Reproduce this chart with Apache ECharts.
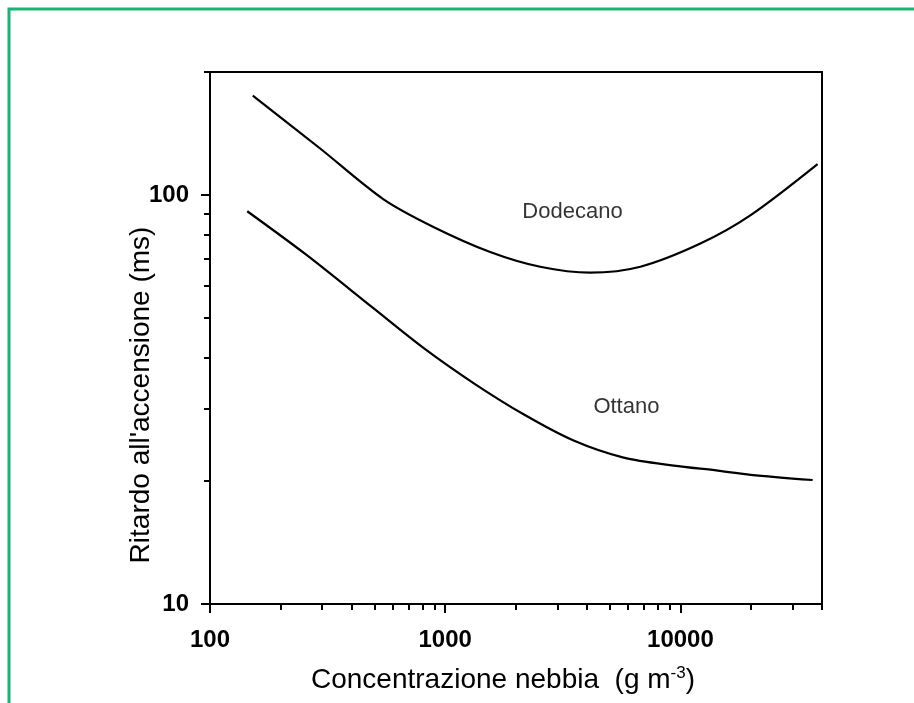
<!DOCTYPE html>
<html>
<head>
<meta charset="utf-8">
<script src="https://cdn.jsdelivr.net/npm/echarts@6/dist/echarts.min.js"></script>
<style>
  html, body { margin: 0; padding: 0; background: #fff; }
  #chart { width: 914px; height: 703px; }
</style>
</head>
<body>
<div id="chart"></div>
<script>
// values (log-log)
const dodecanoX = [152, 294, 545, 891, 1553, 2535, 4140, 6760, 12160, 19900, 38300];
const dodecanoY = [175, 130, 97.8, 83.6, 72.6, 66.8, 64.6, 66.8, 76.1, 89.3, 119];
const ottanoX = [144, 258, 495, 808, 1319, 2154, 3516, 5737, 9365, 14400, 19900, 36500];
const ottanoY = [91.3, 71.3, 52.9, 42.3, 34.7, 29.1, 25.1, 22.8, 21.8, 21.2, 20.7, 20.1];

// curve names written inside the plot
const curveNames = ["Dodecano", "Ottano"];
const nameX = [2128, 4266];
const nameY = [91, 30.3];

// ticks
const xLabels = [100, 1000, 10000];
const xMinor = [200, 300, 400, 500, 600, 700, 800, 900,
  2000, 3000, 4000, 5000, 6000, 7000, 8000, 9000, 20000, 30000, 40000];
const yLabels = [10, 100];
const yMinor = [20, 30, 40, 50, 60, 70, 80, 90, 200];

const FONT = "'Liberation Sans', Arial, sans-serif";

const zip = (xs, ys) => xs.map((x, i) => [x, ys[i]]);

let myChart = echarts.init(document.getElementById("chart"), null, {
  renderer: "canvas"
});

let option = {
  backgroundColor: "#fff",
  animation: false,
  textStyle: { fontFamily: FONT, color: "#000" },
  grid: {
    left: 210,
    right: 92,
    top: 72,
    bottom: 99,
    show: true,
    borderColor: "#000",
    borderWidth: 2
  },
  graphic: [
    {
      type: "polyline",
      shape: { points: [[9, 703], [9, 9], [914, 9]] },
      style: { stroke: "#19b373", lineWidth: 3, fill: null },
      silent: true
    }
  ],
  xAxis: [
    {
      type: "log",
      logBase: 10,
      min: 100,
      max: 40000,
      name: "Concentrazione nebbia  (g m{sup|-3})",
      nameLocation: "middle",
      nameGap: 61,
      nameMoveOverlap: false,
      nameTextStyle: {
        fontSize: 28,
        fontFamily: FONT,
        color: "#000",
        padding: [0, 26, 0, 0],
        rich: {
          sup: { fontSize: 17, fontFamily: FONT, color: "#000", verticalAlign: "top", padding: [0, 0, 14, 0] }
        }
      },
      axisLine: { show: true, lineStyle: { color: "#000", width: 2 } },
      axisTick: { show: true, customValues: xLabels, length: 9, lineStyle: { color: "#000", width: 2 } },
      axisLabel: {
        customValues: xLabels,
        formatter: (v) => String(v),
        margin: 24,
        fontSize: 24,
        fontWeight: "bold",
        fontFamily: FONT,
        color: "#000"
      },
      splitLine: { show: false }
    },
    {
      type: "log",
      logBase: 10,
      min: 100,
      max: 40000,
      position: "bottom",
      axisLine: { show: false },
      axisTick: { show: true, customValues: xMinor, length: 6, lineStyle: { color: "#000", width: 2 } },
      axisLabel: { show: false },
      splitLine: { show: false }
    }
  ],
  yAxis: [
    {
      type: "log",
      logBase: 10,
      min: 10,
      max: 200,
      name: "Ritardo all'accensione (ms)",
      nameLocation: "middle",
      nameGap: 55,
      nameMoveOverlap: false,
      nameTextStyle: {
        fontSize: 28,
        fontFamily: FONT,
        color: "#000",
        padding: [0, 114, 0, 0]
      },
      axisLine: { show: true, lineStyle: { color: "#000", width: 2 } },
      axisTick: { show: true, customValues: yLabels, length: 9, lineStyle: { color: "#000", width: 2 } },
      axisLabel: {
        customValues: yLabels,
        formatter: (v) => String(v),
        margin: 21,
        fontSize: 24,
        fontWeight: "bold",
        fontFamily: FONT,
        color: "#000"
      },
      splitLine: { show: false }
    },
    {
      type: "log",
      logBase: 10,
      min: 10,
      max: 200,
      position: "left",
      axisLine: { show: false },
      axisTick: { show: true, customValues: yMinor, length: 6, lineStyle: { color: "#000", width: 2 } },
      axisLabel: { show: false },
      splitLine: { show: false }
    }
  ],
  series: [
    {
      name: "Dodecano",
      type: "line",
      data: zip(dodecanoX, dodecanoY),
      smooth: 0.3,
      showSymbol: false,
      lineStyle: { color: "#000", width: 2.2 }
    },
    {
      name: "Ottano",
      type: "line",
      data: zip(ottanoX, ottanoY),
      smooth: 0.3,
      showSymbol: false,
      lineStyle: { color: "#000", width: 2.2 }
    },
    {
      name: "labels",
      type: "scatter",
      symbolSize: 0,
      data: curveNames.map((n, i) => ({ name: n, value: [nameX[i], nameY[i]] })),
      label: {
        show: true,
        position: "right",
        distance: 0,
        formatter: "{b}",
        fontSize: 22,
        fontFamily: FONT,
        color: "#000"
      },
      silent: true
    }
  ]
};

if (option && typeof option === "object") {
  myChart.setOption(option);
}

window.addEventListener("resize", myChart.resize);
</script>
</body>
</html>
